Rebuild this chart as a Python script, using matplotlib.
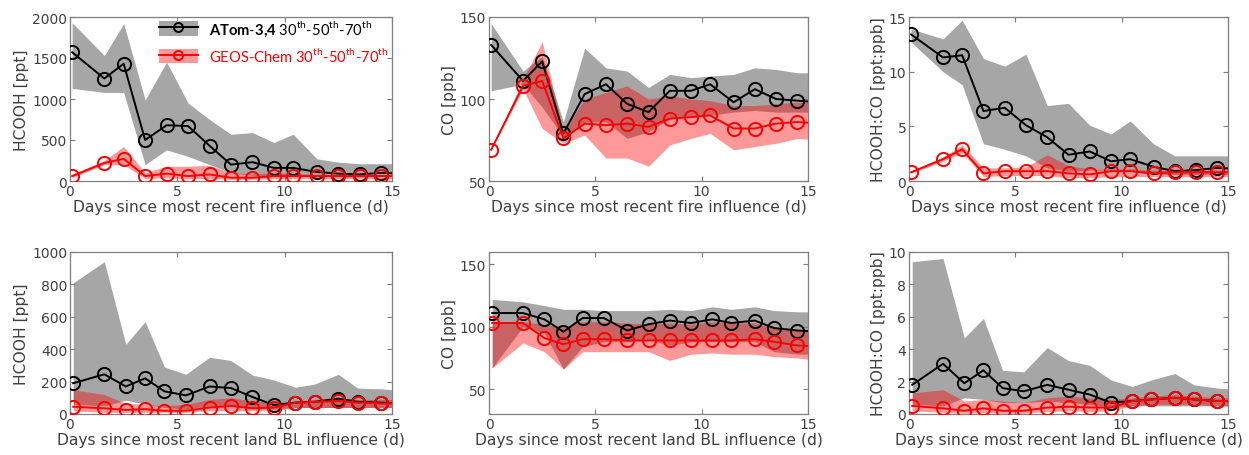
import matplotlib
matplotlib.use("Agg")
import matplotlib.pyplot as plt
from matplotlib.patches import Patch
from matplotlib.lines import Line2D

plt.rcParams['font.family'] = ['DejaVu Sans']
plt.rcParams['mathtext.fontset'] = 'custom'
plt.rcParams['mathtext.rm'] = 'Lato'
plt.rcParams['mathtext.bf'] = 'Lato:bold'

# ---------------- data ----------------
x_fire = [0.1, 1.6, 2.5, 3.5, 4.5, 5.5, 6.5, 7.5, 8.5, 9.5, 10.4, 11.5, 12.5, 13.5, 14.5, 15.5]
x_bl = [0.15, 1.6, 2.6, 3.5, 4.4, 5.4, 6.5, 7.5, 8.5, 9.5, 10.5, 11.4, 12.5, 13.4, 14.5, 15.5]

# Panel 1: HCOOH vs fire
hcooh_fire_obs_p50 = [1570, 1250, 1430, 500, 680, 670, 430, 200, 230, 160, 160, 110, 90, 80, 100, 90]
hcooh_fire_obs_p70 = [1930, 1530, 1920, 990, 1450, 950, 750, 570, 590, 470, 570, 270, 230, 210, 210, 210]
hcooh_fire_obs_p30 = [1130, 1080, 1080, 200, 380, 300, 200, 100, 70, 60, 80, 60, 50, 50, 60, 60]
hcooh_fire_mod_p50 = [60, 220, 270, 60, 90, 60, 80, 40, 40, 60, 60, 60, 60, 60, 60, 60]
hcooh_fire_mod_p70 = [80, 250, 420, 100, 180, 180, 190, 100, 90, 100, 90, 80, 80, 80, 80, 80]
hcooh_fire_mod_p30 = [40, 200, 200, 30, 40, 30, 30, 20, 20, 30, 30, 30, 30, 30, 30, 30]

# Panel 2: CO vs fire
co_fire_obs_p50 = [133, 111, 123, 79, 103, 109, 97, 92, 105, 105, 109, 98, 106, 100, 99, 98]
co_fire_obs_p70 = [146, 117, 126, 86, 131, 119, 117, 107, 115, 113, 114, 115, 119, 118, 116, 116]
co_fire_obs_p30 = [105, 109, 95, 77, 86, 86, 76, 80, 88, 90, 90, 92, 93, 92, 92, 92]
co_fire_mod_p50 = [69, 108, 111, 76, 85, 84, 85, 83, 88, 89, 90, 82, 82, 85, 86, 85]
co_fire_mod_p70 = [69, 112, 135, 80, 100, 104, 108, 100, 102, 100, 99, 96, 96, 97, 98, 98]
co_fire_mod_p30 = [69, 106, 82, 73, 78, 64, 64, 59, 72, 76, 79, 69, 71, 73, 76, 75]

# Panel 3: HCOOH:CO vs fire
ratio_fire_obs_p50 = [13.4, 11.3, 11.5, 6.4, 6.7, 5.1, 4.0, 2.4, 2.7, 1.8, 2.0, 1.3, 0.9, 1.0, 1.2, 1.1]
ratio_fire_obs_p70 = [13.9, 13.0, 14.7, 11.2, 10.5, 11.6, 6.9, 7.1, 5.1, 4.3, 5.5, 3.4, 2.3, 2.3, 2.3, 2.3]
ratio_fire_obs_p30 = [12.7, 10.0, 8.8, 3.4, 2.9, 2.3, 1.2, 0.9, 1.0, 1.0, 0.9, 0.6, 0.6, 0.6, 0.6, 0.6]
ratio_fire_mod_p50 = [0.8, 2.0, 2.9, 0.7, 0.9, 0.9, 0.9, 0.7, 0.6, 0.9, 0.9, 0.7, 0.8, 0.8, 0.8, 0.8]
ratio_fire_mod_p70 = [0.9, 2.2, 3.3, 1.2, 1.2, 1.3, 2.4, 1.4, 1.1, 1.1, 1.1, 1.0, 1.0, 1.0, 1.0, 1.0]
ratio_fire_mod_p30 = [0.7, 1.8, 2.6, 0.4, 0.5, 0.5, 0.5, 0.3, 0.3, 0.4, 0.4, 0.4, 0.4, 0.4, 0.4, 0.4]

# Panel 4: HCOOH vs land BL
hcooh_bl_obs_p50 = [190, 245, 170, 220, 140, 115, 170, 160, 105, 55, 70, 75, 95, 75, 70, 65]
hcooh_bl_obs_p70 = [810, 940, 430, 570, 290, 245, 350, 330, 240, 210, 165, 185, 245, 160, 155, 145]
hcooh_bl_obs_p30 = [60, 50, 85, 60, 40, 30, 50, 50, 40, 30, 40, 40, 40, 40, 40, 40]
hcooh_bl_mod_p50 = [45, 35, 25, 30, 20, 20, 40, 50, 35, 40, 70, 75, 80, 70, 65, 65]
hcooh_bl_mod_p70 = [150, 120, 65, 60, 50, 60, 90, 100, 80, 70, 80, 90, 100, 90, 90, 90]
hcooh_bl_mod_p30 = [20, 10, 10, 10, 10, 10, 20, 20, 20, 20, 40, 40, 40, 40, 40, 40]

# Panel 5: CO vs land BL
co_bl_obs_p50 = [111, 111, 106, 96, 107, 107, 97, 102, 105, 103, 106, 103, 105, 99, 97, 96]
co_bl_obs_p70 = [122, 120, 117, 114, 114, 113, 113, 113, 114, 113, 116, 114, 116, 113, 112, 112]
co_bl_obs_p30 = [67, 100, 95, 66, 84, 88, 88, 90, 85, 88, 88, 88, 88, 80, 78, 78]
co_bl_mod_p50 = [103, 103, 91, 86, 90, 90, 89, 89, 89, 89, 89, 89, 90, 88, 85, 84]
co_bl_mod_p70 = [104, 104, 102, 100, 104, 104, 103, 102, 103, 102, 104, 103, 103, 99, 97, 96]
co_bl_mod_p30 = [67, 87, 80, 66, 80, 80, 80, 80, 73, 78, 79, 78, 78, 76, 75, 73]

# Panel 6: HCOOH:CO vs land BL
ratio_bl_obs_p50 = [1.8, 3.1, 1.9, 2.7, 1.6, 1.4, 1.8, 1.5, 1.2, 0.7, 0.8, 0.9, 1.0, 0.9, 0.8, 0.8]
ratio_bl_obs_p70 = [9.4, 9.6, 4.7, 5.9, 2.7, 2.6, 4.1, 3.3, 3.0, 2.1, 1.7, 2.1, 2.5, 1.8, 1.6, 1.5]
ratio_bl_obs_p30 = [0.6, 0.5, 1.0, 0.9, 0.7, 0.7, 0.8, 0.7, 0.6, 0.4, 0.5, 0.5, 0.5, 0.5, 0.5, 0.5]
ratio_bl_mod_p50 = [0.5, 0.35, 0.2, 0.35, 0.2, 0.2, 0.4, 0.45, 0.4, 0.4, 0.8, 0.9, 1.0, 0.9, 0.8, 0.8]
ratio_bl_mod_p70 = [1.3, 1.5, 0.8, 0.9, 0.8, 0.7, 1.0, 1.1, 1.0, 0.9, 1.0, 1.1, 1.2, 1.1, 1.0, 1.0]
ratio_bl_mod_p30 = [0.2, 0.1, 0.05, 0.1, 0.05, 0.05, 0.15, 0.2, 0.15, 0.2, 0.5, 0.6, 0.6, 0.6, 0.5, 0.5]

xlabel_fire = "Days since most recent fire influence (d)"
xlabel_bl = "Days since most recent land BL influence (d)"
ylabels = ["HCOOH [ppt]", "CO [ppb]", "HCOOH:CO [ppt:ppb]"]

# ---------------- style ----------------
GREY = '#a6a6a6'
RED = '#ff0000'
TXT = '#404040'
SPINE = '#7f7f7f'
FS_LAB = 11.2
FS_TICK = 10
FS_LEG = 10.6

fig = plt.figure(figsize=(12.49, 4.56), dpi=100)

lefts = [70, 489, 909]
widths = [322, 319, 319]
row_tops = [18, 253]
row_bottoms = [182, 415]

panels = [
    (0, 0, x_fire, hcooh_fire_obs_p50, hcooh_fire_obs_p30, hcooh_fire_obs_p70,
     hcooh_fire_mod_p50, hcooh_fire_mod_p30, hcooh_fire_mod_p70, (0, 2000), [0, 500, 1000, 1500, 2000], xlabel_fire),
    (0, 1, x_fire, co_fire_obs_p50, co_fire_obs_p30, co_fire_obs_p70,
     co_fire_mod_p50, co_fire_mod_p30, co_fire_mod_p70, (50, 150), [50, 100, 150], xlabel_fire),
    (0, 2, x_fire, ratio_fire_obs_p50, ratio_fire_obs_p30, ratio_fire_obs_p70,
     ratio_fire_mod_p50, ratio_fire_mod_p30, ratio_fire_mod_p70, (0, 15), [0, 5, 10, 15], xlabel_fire),
    (1, 0, x_bl, hcooh_bl_obs_p50, hcooh_bl_obs_p30, hcooh_bl_obs_p70,
     hcooh_bl_mod_p50, hcooh_bl_mod_p30, hcooh_bl_mod_p70, (0, 1000), [0, 200, 400, 600, 800, 1000], xlabel_bl),
    (1, 1, x_bl, co_bl_obs_p50, co_bl_obs_p30, co_bl_obs_p70,
     co_bl_mod_p50, co_bl_mod_p30, co_bl_mod_p70, (30, 160), [50, 100, 150], xlabel_bl),
    (1, 2, x_bl, ratio_bl_obs_p50, ratio_bl_obs_p30, ratio_bl_obs_p70,
     ratio_bl_mod_p50, ratio_bl_mod_p30, ratio_bl_mod_p70, (0, 10), [0, 2, 4, 6, 8, 10], xlabel_bl),
]

W, H = 1249, 456
axes = []
for (r, c, xs, o50, o30, o70, m50, m30, m70, ylim, yticks, xlab) in panels:
    l = lefts[c] / W
    b = 1 - row_bottoms[r] / H
    w = widths[c] / W
    h = (row_bottoms[r] - row_tops[r]) / H
    ax = fig.add_axes([l, b, w, h])
    axes.append(ax)
    ax.fill_between(xs, o30, o70, color=GREY, lw=0, zorder=1)
    ax.fill_between(xs, m30, m70, color=RED, alpha=0.4, lw=0, zorder=2)
    ax.plot(xs, o50, color='black', lw=1.4, marker='o', mfc='none', mec='black',
            ms=9.5, mew=1.4, zorder=3)
    ax.plot(xs, m50, color=RED, lw=1.4, marker='o', mfc='none', mec=RED,
            ms=9.5, mew=1.4, zorder=4)
    ax.set_xlim(0, 15)
    ax.set_ylim(*ylim)
    ax.set_xticks([0, 5, 10, 15])
    ax.set_yticks(yticks)
    ax.set_xlabel(xlab, fontsize=FS_LAB, color=TXT, labelpad=1)
    ax.set_ylabel(ylabels[c], fontsize=FS_LAB, color=TXT, labelpad=2)
    ax.tick_params(direction='in', top=True, right=True, length=3.5, width=0.8,
                   colors=SPINE, labelcolor=TXT, labelsize=FS_TICK, pad=2)
    for s in ax.spines.values():
        s.set_color(SPINE)
        s.set_linewidth(0.9)

# legend in first panel
h_obs = (Patch(facecolor=GREY, edgecolor='none'),
         Line2D([], [], color='black', lw=1.4, marker='o', mfc='none', mec='black', ms=6.5, mew=1.4))
h_mod = (Patch(facecolor=RED, alpha=0.4, edgecolor='none'),
         Line2D([], [], color=RED, lw=1.4, marker='o', mfc='none', mec=RED, ms=6.5, mew=1.4))
lab_obs = r"$\mathbf{ATom}$-$\mathbf{3{,}4}$ 30$^{\mathrm{th}}$-50$^{\mathrm{th}}$-70$^{\mathrm{th}}$"
lab_mod = r"GEOS-Chem 30$^{\mathrm{th}}$-50$^{\mathrm{th}}$-70$^{\mathrm{th}}$"
leg = axes[0].legend([h_obs, h_mod], [lab_obs, lab_mod], loc='upper right',
                     frameon=False, prop={'family': 'Lato', 'size': FS_LEG},
                     handlelength=2.6, handleheight=1.1,
                     borderaxespad=0.0, borderpad=0.2, labelspacing=0.55,
                     handletextpad=0.8, bbox_to_anchor=(1.0, 1.01))
texts = leg.get_texts()
texts[0].set_color('black')
texts[1].set_color(RED)

fig.savefig('out.png', dpi=100)
